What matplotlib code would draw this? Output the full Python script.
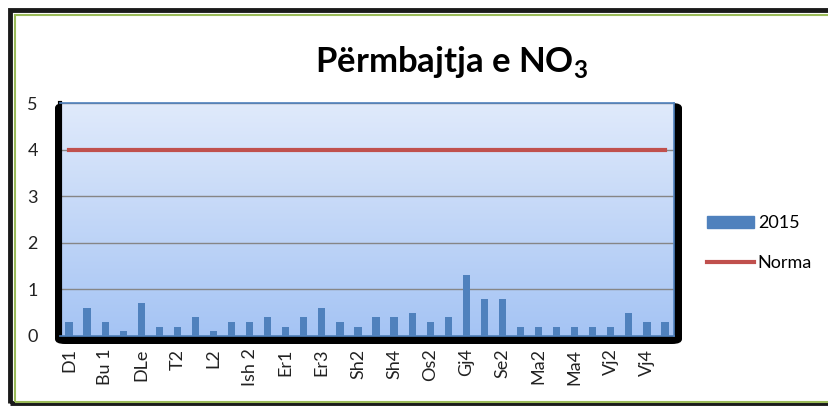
import numpy as np
import matplotlib
matplotlib.use('Agg')
import matplotlib.pyplot as plt
from matplotlib.patches import Rectangle, FancyBboxPatch
from matplotlib.lines import Line2D

plt.rcParams['font.family'] = ['Lato', 'DejaVu Sans']
plt.rcParams['mathtext.fontset'] = 'custom'
plt.rcParams['mathtext.bf'] = 'Lato:bold'
plt.rcParams['mathtext.rm'] = 'Lato'

stations = ['D1', 'D2', 'Bu 1', 'Bu 2', 'DLe', 'T1', 'T2', 'L1', 'L2', 'Ish 1',
            'Ish 2', 'Ish 3', 'Er1', 'Er2', 'Er3', 'Sh1', 'Sh2', 'Sh3', 'Sh4', 'Os1',
            'Os2', 'Gj3', 'Gj4', 'Se1', 'Se2', 'Ma1', 'Ma2', 'Ma3', 'Ma4', 'Vj1',
            'Vj2', 'Vj3', 'Vj4', 'Vj5']
no3_2015 = [0.3, 0.6, 0.3, 0.1, 0.7, 0.2, 0.2, 0.4, 0.1, 0.3,
            0.3, 0.4, 0.2, 0.4, 0.6, 0.3, 0.2, 0.4, 0.4, 0.5,
            0.3, 0.4, 1.3, 0.8, 0.8, 0.2, 0.2, 0.2, 0.2, 0.2,
            0.2, 0.5, 0.3, 0.3]
norma = [4] * len(stations)

W, H = 829, 407
fig = plt.figure(figsize=(W / 100, H / 100), dpi=100)

# outer frame
fig.patches.append(Rectangle((10 / W, 4 / H), 1.2, (403 - 10) / H, transform=fig.transFigure,
                             fill=False, ec='#1a1a1a', lw=3.5, zorder=-2))
fig.patches.append(Rectangle((15 / W, 5 / H), 1.2, (403 - 16) / H, transform=fig.transFigure,
                             fill=False, ec='#9bbb59', lw=1.5, zorder=-2))

x0, x1, ytop, ybot = 60, 674, 103, 336
ax = fig.add_axes([x0 / W, (H - ybot) / H, (x1 - x0) / W, (ybot - ytop) / H])

# black shadow frame behind the plot area
fig.patches.append(FancyBboxPatch(((x0 - 5) / W, (H - ybot - 8) / H), (x1 - x0 + 13) / W,
                                  (ybot - ytop + 8) / H,
                                  boxstyle='round,pad=0,rounding_size=0.012',
                                  transform=fig.transFigure, fc='black', ec='none', zorder=-1))

# gradient background
grad = np.linspace(0, 1, 256).reshape(-1, 1)
top = np.array([224, 234, 251]) / 255
bot = np.array([165, 196, 244]) / 255
img = top + (bot - top) * grad[:, :, None] * np.ones((1, 1, 3))
ax.imshow(img, extent=[0, 1, 0, 1], transform=ax.transAxes, aspect='auto', zorder=0)

x = np.arange(len(stations))
ax.bar(x, no3_2015, width=0.4, color='#4f81bd', zorder=3, label='2015')
ax.plot(x, norma, color='#c0504d', lw=3, zorder=4, label='Norma')

ax.set_xlim(-0.5, len(stations) - 0.5)
ax.set_ylim(0, 5)
ax.set_yticks(range(6))
ax.yaxis.grid(True, color='#868686', lw=1, zorder=1)
ax.set_axisbelow(True)
ax.set_xticks(x[::2])
ax.set_xticklabels(stations[::2], rotation=90, fontsize=13, color='#222222')
ax.tick_params(axis='x', length=0, pad=9)
ax.tick_params(axis='y', length=0, pad=16, labelsize=13, labelcolor='#222222')
for s in ax.spines.values():
    s.set_color('#4f81bd')
    s.set_linewidth(1.2)
ax.spines['left'].set_color('black')
ax.spines['left'].set_linewidth(3)

fig.text(452 / W, 1 - 62 / H, 'Përmbajtja e NO$_\\mathbf{3}$', ha='center', va='center',
         fontsize=25, fontweight='bold', color='black')

handles = [Rectangle((0, 0), 1, 1, color='#4f81bd'),
           Line2D([0], [0], color='#c0504d', lw=3)]
fig.legend(handles, ['2015', 'Norma'], loc='center left',
           bbox_to_anchor=(691 / W, 1 - 243 / H), frameon=False, fontsize=13,
           handlelength=2.6, handleheight=0.6, labelspacing=1.3, handletextpad=0.2)

fig.savefig('out.png', dpi=100)
